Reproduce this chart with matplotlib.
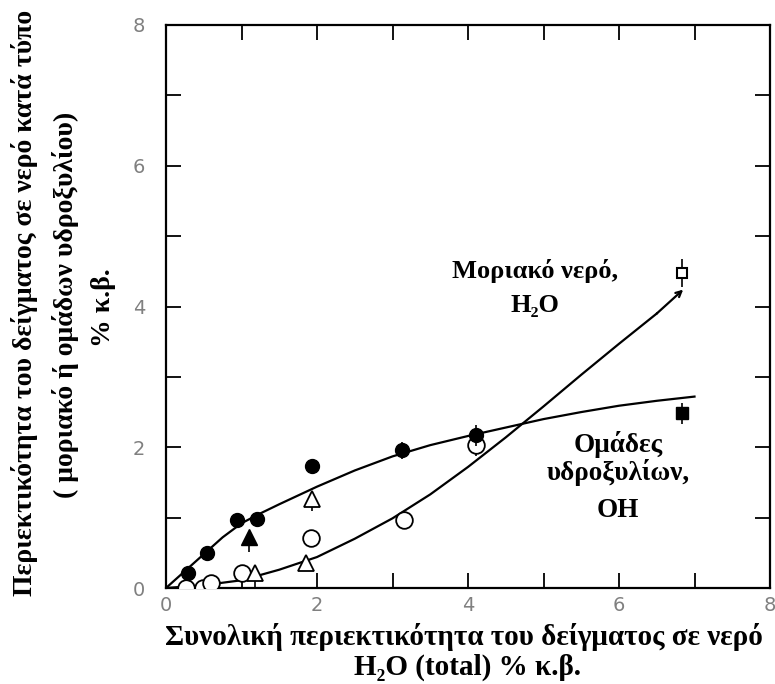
import matplotlib.pyplot as plt
import numpy as np

oh_filled_x = [0.29, 0.54, 0.94, 1.20, 1.93, 3.12, 4.11]
oh_filled_y = [0.21, 0.50, 0.96, 0.98, 1.73, 1.96, 2.17]
oh_filled_err = [0.0, 0.0, 0.0, 0.0, 0.0, 0.12, 0.15]

tri_filled_x = [1.10]
tri_filled_y = [0.73]
tri_filled_err = [0.22]

tri_open_x = [1.93, 1.86, 1.18]
tri_open_y = [1.27, 0.35, 0.21]
tri_open_err = [0.17, 0.08, 0.2]

h2o_open_x = [0.27, 0.49, 0.60, 1.00, 1.92, 3.15, 4.11]
h2o_open_y = [0.00, 0.00, 0.07, 0.22, 0.71, 0.97, 2.03]
h2o_open_err = [0.0, 0.0, 0.0, 0.0, 0.0, 0.0, 0.15]

sq_filled_x = [6.83]
sq_filled_y = [2.48]
sq_open_x = [6.83]
sq_open_y = [4.47]

# hand-drawn trend curves
oh_curve_x = [0, 0.25, 0.5, 0.75, 1.0, 1.25, 1.5, 2.0, 2.5, 3.0, 3.5, 4.0, 4.5, 5.0, 5.5, 6.0, 6.5, 7.0]
oh_curve_y = [0, 0.24, 0.48, 0.72, 0.92, 1.06, 1.19, 1.44, 1.67, 1.87, 2.03, 2.16, 2.28, 2.4, 2.5, 2.59, 2.66, 2.72]
h2o_curve_x = [0, 0.5, 1.0, 1.5, 2.0, 2.5, 3.0, 3.5, 4.0, 4.5, 5.0, 5.5, 6.0, 6.5, 6.85]
h2o_curve_y = [0, 0.04, 0.11, 0.26, 0.44, 0.70, 0.99, 1.33, 1.72, 2.14, 2.58, 3.03, 3.47, 3.9, 4.24]

xticks = [0, 2, 4, 6, 8]
yticks = [0, 2, 4, 6, 8]

serif = ['Liberation Serif', 'DejaVu Serif']

fig = plt.figure(figsize=(7.75, 6.84), dpi=100)
ax = fig.add_axes([166/775, 1 - 588/684, (770-166)/775, (588-25)/684])

ax.plot(oh_curve_x, oh_curve_y, color='black', lw=1.6)
ax.plot(h2o_curve_x[:-1], h2o_curve_y[:-1], color='black', lw=1.6)
ax.annotate('', xy=(h2o_curve_x[-1], h2o_curve_y[-1]), xytext=(h2o_curve_x[-2], h2o_curve_y[-2]),
            arrowprops=dict(arrowstyle='->', color='black', lw=1.6, shrinkA=0, shrinkB=0))

ax.errorbar(oh_filled_x, oh_filled_y, yerr=oh_filled_err, fmt='o', color='black', ms=10,
            elinewidth=1.2, capsize=0, zorder=4)
ax.errorbar(h2o_open_x, h2o_open_y, yerr=h2o_open_err, fmt='o', mfc='white', mec='black', ecolor='black',
            ms=12, mew=1.3, elinewidth=1.2, capsize=0, zorder=3)
ax.errorbar(tri_filled_x, tri_filled_y, yerr=[tri_filled_err, [0]], fmt='^', color='black', ms=11,
            elinewidth=1.2, capsize=0, zorder=4)
ax.errorbar(tri_open_x, tri_open_y, yerr=[tri_open_err, [0, 0, 0]], fmt='^', mfc='white', mec='black',
            ecolor='black', ms=11, mew=1.3, elinewidth=1.2, capsize=0, zorder=4)
ax.errorbar(sq_filled_x, sq_filled_y, yerr=0.15, fmt='s', color='black', ms=8, elinewidth=1.2, capsize=0, zorder=4)
ax.errorbar(sq_open_x, sq_open_y, yerr=0.2, fmt='s', mfc='white', mec='black', ecolor='black',
            ms=7, mew=1.5, elinewidth=1.2, capsize=0, zorder=4)

ax.set_xlim(0, 8)
ax.set_ylim(0, 8)
ax.set_xticks(xticks)
ax.set_yticks(yticks)
ax.set_xticks([1, 3, 5, 7], minor=True)
ax.set_yticks([1, 3, 5, 7], minor=True)
for which in ['major', 'minor']:
    ax.tick_params(axis='both', which=which, direction='in', length=11, width=1.3,
                   top=True, right=True, colors='black', labelcolor='#808080')
ax.tick_params(axis='x', which='major', pad=6, labelsize=14)
ax.tick_params(axis='y', which='major', pad=15, labelsize=14)
for s in ax.spines.values():
    s.set_linewidth(1.6)

ax.text(4.89, 4.40, 'Μοριακό νερό,', family=serif, weight='bold', fontsize=19, ha='center', va='baseline')
ax.text(4.89, 3.92, 'H₂O', family=serif, weight='bold', fontsize=19, ha='center', va='baseline')
ax.text(5.99, 1.93, 'Ομάδες', family=serif, weight='bold', fontsize=19.5, ha='center', va='baseline')
ax.text(5.99, 1.53, 'υδροξυλίων,', family=serif, weight='bold', fontsize=19.5, ha='center', va='baseline')
ax.text(5.99, 1.01, 'ΟΗ', family=serif, weight='bold', fontsize=19.5, ha='center', va='baseline')

fig.text(25/775, 1 - 303/684, 'Περιεκτικότητα του δείγματος σε νερό κατά τύπο', family=serif,
         weight='bold', fontsize=20, rotation=90, ha='center', va='center')
fig.text(66/775, 1 - 305/684, '( μοριακό ή ομάδων υδροξυλίου)', family=serif,
         weight='bold', fontsize=20, rotation=90, ha='center', va='center')
fig.text(103/775, 1 - 308/684, '% κ.β.', family=serif,
         weight='bold', fontsize=20, rotation=90, ha='center', va='center')

fig.text(464/775, 1 - 637/684, 'Συνολική περιεκτικότητα του δείγματος σε νερό', family=serif,
         weight='bold', fontsize=21, ha='center', va='center')
fig.text(468/775, 1 - 667/684, 'H₂O (total) % κ.β.', family=serif,
         weight='bold', fontsize=21, ha='center', va='center')

fig.savefig('out.png', dpi=100)
